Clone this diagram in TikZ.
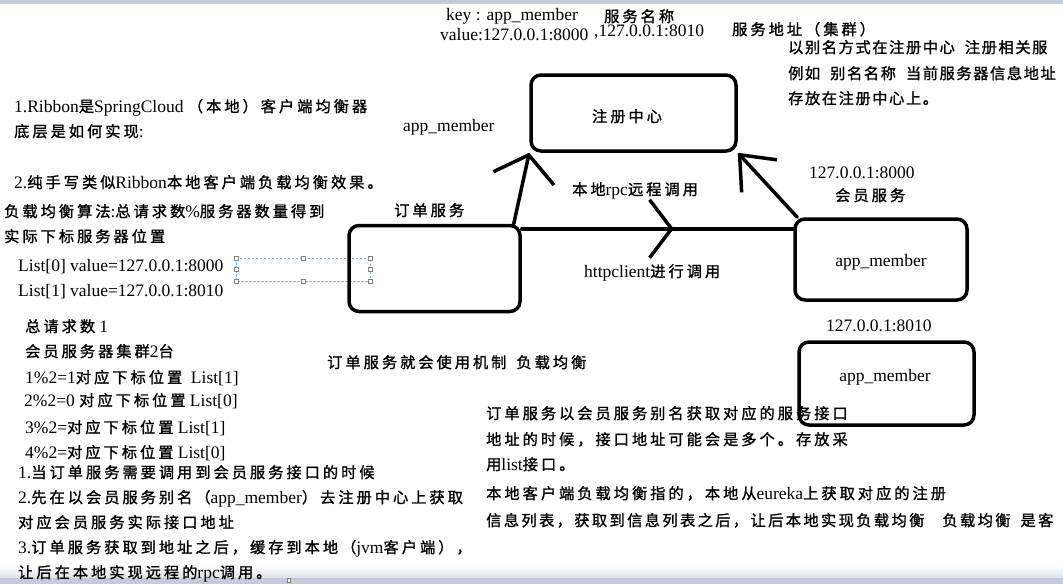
\documentclass[tikz,border=0pt]{standalone}
\usepackage{fontspec}
\setmainfont{Liberation Serif}
\newfontfamily\latinfont{Liberation Serif}
\newfontfamily\cjkfont{Noto Sans CJK SC}[Scale=0.87,FakeBold=1.3]
\usetikzlibrary{arrows.meta, decorations.markings, calc}

% Chinese characters switch to the CJK font
\XeTeXinterchartokenstate=1
\newXeTeXintercharclass\cjkclass
\newcount\cjkcode
\def\cjkkernval{3pt}
\newcommand\tightkern{\def\cjkkernval{1.6pt}}
\newcommand\midkern{\def\cjkkernval{2.4pt}}
\def\setcjkrange#1#2{\cjkcode=#1\relax
  \loop\XeTeXcharclass\cjkcode=\cjkclass\relax
  \advance\cjkcode by 1\relax
  \ifnum\cjkcode<#2 \repeat}
\setcjkrange{"4E00}{"A000}
\setcjkrange{"3000}{"3040}
\setcjkrange{"FF00}{"FFF0}
\XeTeXinterchartoks 0 \cjkclass = {\cjkfont}
\XeTeXinterchartoks 4095 \cjkclass = {\cjkfont}
\XeTeXinterchartoks \cjkclass 0 = {\latinfont}
\XeTeXinterchartoks \cjkclass 4095 = {\latinfont}
\XeTeXinterchartoks \cjkclass \cjkclass = {\kern\cjkkernval\relax}
\newcommand\cjkgap{\hspace{10pt}}

\definecolor{chrome}{HTML}{C3CCD8}
\definecolor{selblue}{HTML}{8FB0D8}

\begin{document}
\begin{tikzpicture}[x=1pt, y=-1pt,
			box/.style={draw, line width=3.5pt, rounded corners=10pt, inner sep=0pt},
			txt/.style={anchor=west, inner sep=0pt, text height=14pt, text depth=4pt, font=\fontsize{17.5}{20}\selectfont},
			tight/.style={txt, font=\fontsize{17.5}{20}\selectfont\tightkern},
			midtight/.style={txt, font=\fontsize{17.5}{20}\selectfont\midkern},
			lbl/.style={txt, anchor=center},
			call/.style={line width=3.5pt, line cap=round},
			handle/.style={draw=gray, fill=white, line width=0.5pt, minimum size=4pt, inner sep=0pt}
			]
			\useasboundingbox (0,0) rectangle (1063,584);
			\clip (0,0) rectangle (1063,584);
			
			% Window chrome
			\fill[chrome] (0,0) rectangle (1063,4);
			\shade[top color=white, bottom color=chrome!60] (0,566) rectangle (1063,578);
			\fill[chrome] (0,578) rectangle (1063,584);
			\node[handle, minimum width=3pt, minimum height=4pt] (hb) at (289,580) {};
			
			% Key / value
			\node[txt] (key) at (446,15) {key : app\_member};
			\node[txt] (val) at (440,35) {value:127.0.0.1:8000};
			\node[txt] (svcname) at (604,17) {服务名称};
			\node[txt] (val2) at (594,31) {,127.0.0.1:8010};
			\node[txt] (svcaddr) at (732,30) {服务地址（集群）};
			\node[tight] (note1) at (788,48) {以别名方式在注册中心\cjkgap 注册相关服};
			\node[tight] (note2) at (788,74) {例如\cjkgap 别名名称\cjkgap 当前服务器信息地址};
			\node[tight] (note3) at (788,99) {存放在注册中心上。};
			
			% Left notes
			\node[txt] (q1) at (14,107) {1.Ribbon是SpringCloud （本地）客户端均衡器};
			\node[txt] (q1b) at (14,132) {底层是如何实现:};
			\node[txt] (q2) at (14,183) {2.纯手写类似Ribbon本地客户端负载均衡效果。};
			\node[txt] (alg1) at (4,212) {负载均衡算法:总请求数\%服务器数量得到};
			\node[txt] (alg2) at (4,237) {实际下标服务器位置};
			\node[txt] (list0) at (18,266) {List[0] value=127.0.0.1:8000};
			\node[txt] (list1) at (18,291) {List[1] value=127.0.0.1:8010};
			\node[txt] (cnt) at (25,327) {总请求数 1};
			\node[txt] (clu) at (25,352) {会员服务器集群2台};
			\node[txt] (mod1) at (25,378) {1\%2=1对应下标位置~~List[1]};
			\node[txt] (mod2) at (24,401) {2\%2=0 对应下标位置 List[0]};
			\node[txt] (mod3) at (25,428) {3\%2=对应下标位置 List[1]};
			\node[txt] (mod4) at (25,453) {4\%2=对应下标位置 List[0]};
			\node[txt] (s1) at (18,473) {1.当订单服务需要调用到会员服务接口的时候};
			\node[txt] (s2) at (18,498) {2.先在以会员服务别名（app\_member）去注册中心上获取};
			\node[txt] (s2b) at (18,523) {对应会员服务实际接口地址};
			\node[txt] (s3) at (18,548) {3.订单服务获取到地址之后，缓存到本地（jvm客户端），};
			\node[txt] (s3b) at (18,573) {让后在本地实现远程的rpc调用。};
			
			% Middle notes
			\node[txt] (alias) at (403,126) {app\_member};
			\node[txt] (ordname) at (394,211) {订单服务};
			\node[txt] (rpc) at (572,190) {本地rpc远程调用};
			\node[txt] (http) at (584,272) {httpclient进行调用};
			\node[txt] (ip1) at (809,173) {127.0.0.1:8000};
			\node[txt] (memname) at (835,196) {会员服务};
			\node[txt] (ip2) at (826,326) {127.0.0.1:8010};
			\node[txt] (lb) at (327,363) {订单服务就会使用机制\cjkgap 负载均衡};
			\node[txt] (m1t) at (486,414) {订单服务以会员服务别名获取对应的服务接口};
			\node[txt] (m2t) at (486,440) {地址的时候，接口地址可能会是多个。存放采};
			\node[txt] (m3t) at (486,465) {用list接口。};
			\node[txt] (m4t) at (486,494) {本地客户端负载均衡指的，本地从eureka上获取对应的注册};
			\node[midtight] (m5t) at (486,521) {信息列表，获取到信息列表之后，让后本地实现负载均衡\hspace{18pt}负载均衡\cjkgap 是客};
			
			% Selected text frame
			\draw[selblue, line width=0.6pt, dash pattern=on 2.5pt off 1.5pt] (236,258) rectangle (370,281);
			\foreach \p [count=\i] in {(236,258),(303,258),(370,258),(236,269.5),(370,269.5),(236,281),(303,281),(370,281)}
				\node[handle] (h\i) at \p {};
			
			% Services
			\node[box, minimum width=205pt, minimum height=76pt] (reg) at (633.5,113) {};
			\node[box, minimum width=171pt, minimum height=86pt] (order) at (434.5,268.5) {};
			\node[box, minimum width=172pt, minimum height=81pt] (mem1) at (881,259.5) {};
			\node[box, minimum width=175pt, minimum height=83pt] (mem2) at (886.5,383.5) {};
			\node[lbl] (regt) at (627,117) {注册中心};
			\node[lbl] (mem1t) at (881,261) {app\_member};
			\node[lbl] (mem2t) at (885,376) {app\_member};
			
			% Calls
			\draw[call, -{Straight Barb[length=24pt, width=62pt]}] ([xshift=-8pt]order.north east) -- (reg.south west);
			\draw[call, -{Straight Barb[length=29pt, width=48pt]}] ([xshift=4pt]mem1.north west) -- (reg.south east);
			\coordinate (hs) at ([yshift=-5pt]order.north east);
			\draw[call, postaction={decorate}, decoration={markings, mark=at position 0.56 with {\arrow{Straight Barb[length=22pt, width=58pt]}}}] (hs) -- (hs -| mem1.west);
		\end{tikzpicture}
\end{document}
